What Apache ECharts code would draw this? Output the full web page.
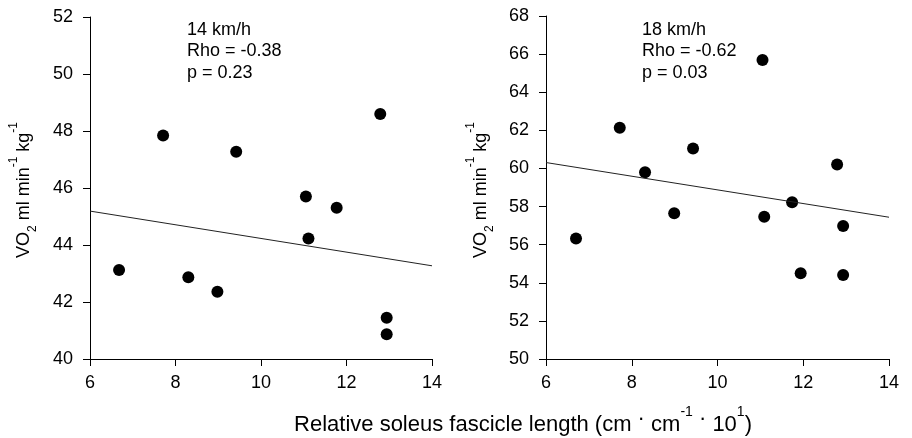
<!DOCTYPE html>
<html><head><meta charset="utf-8">
<script src="https://cdn.jsdelivr.net/npm/echarts@6/dist/echarts.min.js"></script>
<style>html,body{margin:0;padding:0;background:#fff}#c{width:912px;height:438px}</style>
</head><body><div id="c"></div>
<script>
// Left panel (14 km/h)
const x14 = [6.68, 7.71, 8.30, 8.98, 9.42, 11.05, 11.11, 11.77, 12.79, 12.94, 12.94];
const y14 = [43.12, 47.84, 42.87, 42.36, 47.27, 45.70, 44.23, 45.31, 48.60, 41.45, 40.87];
const fitX14 = [6, 14];
const fitY14 = [45.19, 43.27];
// Right panel (18 km/h)
const x18 = [6.70, 7.72, 8.31, 8.99, 9.43, 11.05, 11.09, 11.74, 11.94, 12.79, 12.93, 12.93];
const y18 = [56.32, 62.13, 59.80, 57.65, 61.05, 65.69, 57.47, 58.23, 54.50, 60.21, 56.98, 54.41];
const fitX18 = [6, 14];
const fitY18 = [60.31, 57.44];
const xTicks = [6, 8, 10, 12, 14];
const yTicks14 = [40, 42, 44, 46, 48, 50, 52];
const yTicks18 = [50, 52, 54, 56, 58, 60, 62, 64, 66, 68];
const notes14 = ['14 km/h', 'Rho = -0.38', 'p = 0.23'];
const notes18 = ['18 km/h', 'Rho = -0.62', 'p = 0.03'];

const FONT = 'Liberation Sans, Arial, sans-serif';
const pair = (xs, ys) => xs.map((v, i) => [v, ys[i]]);

function xAxis(idx) {
  return {
    type: 'value', gridIndex: idx, min: xTicks[0], max: xTicks[xTicks.length - 1], interval: 2,
    axisLine: {show: true, lineStyle: {color: '#000', width: 1}},
    axisTick: {show: true, length: 7, lineStyle: {color: '#000'}},
    axisLabel: {color: '#000', fontSize: 18, fontFamily: FONT, margin: 15},
    splitLine: {show: false}
  };
}
function yAxis(idx, ticks) {
  return {
    type: 'value', gridIndex: idx, min: ticks[0], max: ticks[ticks.length - 1], interval: 2,
    axisLine: {show: true, lineStyle: {color: '#000', width: 1}},
    axisTick: {show: true, length: 7, lineStyle: {color: '#000'}},
    axisLabel: {color: '#000', fontSize: 18, fontFamily: FONT, margin: 17},
    splitLine: {show: false}
  };
}
const rich = {
  n: {fontSize: 18, fontFamily: FONT, color: '#000'},
  sub: {fontSize: 12, fontFamily: FONT, color: '#000', verticalAlign: 'bottom', padding: [0, 0, -6, 0]},
  sup: {fontSize: 12, fontFamily: FONT, color: '#000', verticalAlign: 'top', padding: [-7, 0, 0, 0]}
};
const richX = {
  n: {fontSize: 22, fontFamily: FONT, color: '#000'},
  sup: {fontSize: 14, fontFamily: FONT, color: '#000', verticalAlign: 'top', padding: [-9, 0, 0, 0]},
  dot: {fontSize: 22, fontFamily: FONT, color: '#000', padding: [-6, 0, 0, 0], verticalAlign: 'top'}
};
const yTitle = '{n|VO}{sub|2}{n| ml min}{sup|-1}{n| kg}{sup|-1}';
function notes(x, lines) {
  return {
    type: 'text', x: x, y: 19,
    style: {text: lines.join('\n'), font: '18px ' + FONT, fill: '#000', lineHeight: 21.5}
  };
}
const chart = echarts.init(document.getElementById('c'));
chart.setOption({
  animation: false,
  backgroundColor: '#fff',
  grid: [
    {left: 90, top: 17, width: 342, height: 342},
    {left: 546, top: 16, width: 343, height: 343}
  ],
  xAxis: [xAxis(0), xAxis(1)],
  yAxis: [yAxis(0, yTicks14), yAxis(1, yTicks18)],
  series: [
    {type: 'line', xAxisIndex: 0, yAxisIndex: 0, data: pair(fitX14, fitY14), showSymbol: false, symbol: 'none',
     lineStyle: {color: '#222', width: 1}},
    {type: 'scatter', xAxisIndex: 0, yAxisIndex: 0, data: pair(x14, y14), symbolSize: 12,
     itemStyle: {color: '#000', opacity: 1}},
    {type: 'line', xAxisIndex: 1, yAxisIndex: 1, data: pair(fitX18, fitY18), showSymbol: false, symbol: 'none',
     lineStyle: {color: '#222', width: 1}},
    {type: 'scatter', xAxisIndex: 1, yAxisIndex: 1, data: pair(x18, y18), symbolSize: 12,
     itemStyle: {color: '#000', opacity: 1}}
  ],
  graphic: [
    {type: 'text', x: 24, y: 190, rotation: Math.PI / 2,
     style: {text: yTitle, rich: rich, align: 'center', verticalAlign: 'middle'}},
    {type: 'text', x: 481, y: 190, rotation: Math.PI / 2,
     style: {text: yTitle, rich: rich, align: 'center', verticalAlign: 'middle'}},
    notes(187, notes14),
    notes(642, notes18),
    {type: 'text', x: 523, y: 425,
     style: {text: '{n|Relative soleus fascicle length (cm }{dot|·}{n| cm}{sup|-1}{n| }{dot|·}{n| 10}{sup|1}{n|)}', rich: richX, align: 'center', verticalAlign: 'middle'}}
  ]
});
</script></body></html>
